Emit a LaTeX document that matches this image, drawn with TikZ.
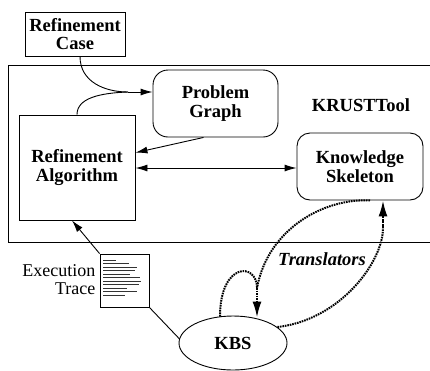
\documentclass[tikz,border=0pt]{standalone}
\usepackage{fontspec}
\setmainfont{Liberation Serif}
\usetikzlibrary{arrows.meta,shapes.geometric,calc}
\begin{document}
\begin{tikzpicture}[x=1pt,y=-1pt,
  lbl/.style={font=\fontsize{18.5}{18.5}\selectfont\bfseries, align=center, inner sep=0pt},
  sqbox/.style={lbl, draw, line width=0.9pt},
  rndbox/.style={lbl, draw, line width=0.9pt, rounded corners=15pt},
  arr/.style={line width=0.9pt, -{Latex[length=12pt,width=7pt]}},
  darr/.style={line width=0.9pt, {Latex[length=12pt,width=7pt]}-{Latex[length=12pt,width=7pt]}},
  trans/.style={line width=2pt, dash pattern=on 1.6pt off 0.9pt},
  transarr/.style={trans, -{Latex[length=16pt,width=9pt]}}]
\useasboundingbox (0,0) rectangle (430,370);
% outer KRUSTTool frame (right edge off the picture)
\draw[line width=0.9pt] (432,65) -- (8,65) -- (8,242) -- (432,242);
\node[lbl] (kt) at (361,105) {KRUSTTool};
% boxes
\node[sqbox, minimum width=100pt, minimum height=44pt] (rc) at (75,34) {Refinement\\Case};
\node[sqbox, minimum width=116pt, minimum height=105pt] (ra) at (77,167.5) {Refinement\\Algorithm};
\node[rndbox, minimum width=125pt, minimum height=67pt] (pg) at (215.5,103.5) {Problem\\Graph};
\node[rndbox, minimum width=126pt, minimum height=67pt, rounded corners=13pt] (ks) at (360,166.5) {Knowledge\\Skeleton};
\node[lbl, draw, ellipse, line width=0.9pt, minimum width=108pt, minimum height=54pt] (kbs) at (233,343) {KBS};
% execution trace document
\node[draw, line width=0.9pt, minimum width=49pt, minimum height=53pt, inner sep=0pt] (doc) at (124.5,280.5) {};
\node[font=\fontsize{18}{18}\selectfont, align=right, inner sep=0pt, anchor=east] (et) at ($(doc.west)+(-4,-1)$) {Execution\\Trace};
\begin{scope}[line width=0.9pt, black!80]
  \draw (103,260) -- (116,260);
  \draw (103,263.5) -- (129,263.5);
  \draw (103,267) -- (137,267);
  \draw (103,270.5) -- (135,270.5);
  \draw (103,274) -- (130,274);
  \draw (103,277.5) -- (140,277.5);
  \draw (103,281) -- (141,281);
  \draw (103,284.5) -- (139,284.5);
  \draw (103,288) -- (127,288);
  \draw (103,291.5) -- (137,291.5);
  \draw (103,295) -- (125,295);
\end{scope}
% connectors
\coordinate (m1) at (128,92);
\draw[line width=0.9pt] ([xshift=5pt]rc.south) .. controls (80,82) and (105,92) .. (m1);
\draw[line width=0.9pt] (ra.north) .. controls (77,98) and (100,93) .. (m1);
\draw[arr] (m1) -- (m1 -| pg.west);
\draw[arr] ([xshift=-12pt]pg.south) -- ($(ra.north east)!0.36!(ra.south east)$);
\draw[darr] (ra.east |- 0,168) -- (ks.west |- 0,168);
\draw[arr] (doc.north west) -- ($(ra.south)+(-5,0)$);
\draw[line width=0.9pt] (doc.south east) -- ($(kbs.west)+(1,-4)$);
% translators
\coordinate (m2) at (257,288);
\draw[trans] ([xshift=10pt]ks.south) .. controls (325,198) and (268,228) .. (m2);
\draw[trans] ($(kbs.north)+(-13,1)$) .. controls (220,262) and (257,262) .. (m2);
\draw[transarr] (m2) -- ($(kbs.north)+(24,2)$);
\coordinate (m3) at (383,228);
\draw[trans] ($(kbs.east)+(-10,-16)$) .. controls (340,320) and (383,262) .. (m3);
\draw[transarr] (m3) -- (m3 |- ks.south);
\node[font=\fontsize{18.5}{18.5}\selectfont\bfseries\itshape, inner sep=0pt] (tr) at (322,259) {Translators};
\end{tikzpicture}
\end{document}
